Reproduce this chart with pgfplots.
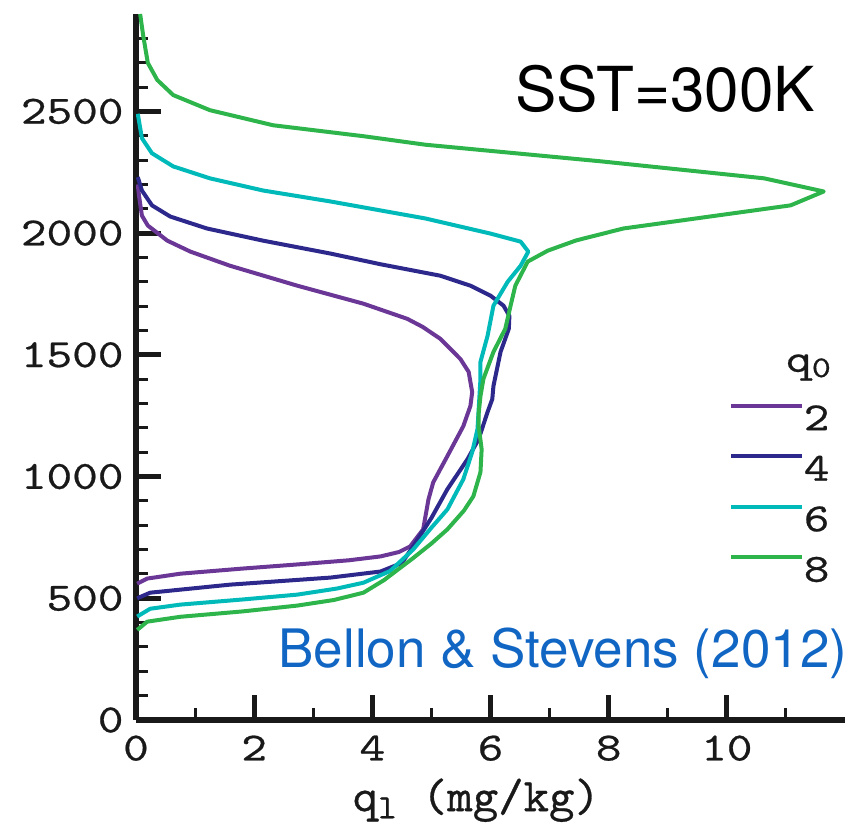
\documentclass[border=0pt]{standalone}
\usepackage{fontspec}
\setsansfont{TeX Gyre Heros}
\newfontfamily\tickfont{lmmono10-regular}[Extension=.otf, FakeStretch=1.22, FakeBold=0.6]
\newfontfamily\labelfont{lmmono10-regular}[Extension=.otf, FakeStretch=1.03, FakeBold=0.6]
\usepackage{pgfplots}
\pgfplotsset{compat=1.18}
\definecolor{cpurple}{RGB}{107,55,150}
\definecolor{cblue}{RGB}{45,40,140}
\definecolor{ccyan}{RGB}{0,185,185}
\definecolor{cgreen}{RGB}{45,180,75}
\definecolor{cref}{RGB}{17,102,196}
\begin{document}
\begin{tikzpicture}
\begin{axis}[
  scale only axis, width=709pt, height=706pt,
  xmin=0, xmax=12, ymin=0, ymax=2900,
  axis x line*=bottom, axis y line*=left,
  axis line style={line width=5.5pt, black!90},
  xtick={0,2,...,10}, ytick={0,500,...,2500},
  minor xtick={1,3,...,11},
  minor ytick={100,200,300,400,600,700,800,900,1100,1200,1300,1400,1600,1700,1800,1900,2100,2200,2300,2400,2600,2700,2800},
  tick align=inside, major tick length=25pt, minor tick length=12pt,
  every major tick/.append style={line width=5pt, black!90},
  every minor tick/.append style={line width=3pt, black!90},
  /pgf/number format/assume math mode=true,
  /pgf/number format/set thousands separator={},
  tick label style={font=\tickfont\fontsize{40}{40}\selectfont, black!90},
  xticklabel style={yshift=-12pt},
  yticklabel style={xshift=-9pt},
  xlabel={q\raisebox{-0.35ex}{\fontsize{34}{34}\selectfont l} (mg/kg)},
  xlabel style={font=\labelfont\fontsize{47}{47}\selectfont, black!90, at={(axis description cs:0.48,0)}, anchor=north, yshift=-55pt},
  legend style={at={(axis cs:10.03,1300)}, anchor=north west, draw=none, fill=none, inner sep=0pt,
    font=\tickfont\fontsize{40}{40}\selectfont, text=black!90, row sep=24pt,
    nodes={inner sep=0pt, text height=25pt, text depth=0pt}},
  legend image code/.code={\draw[#1, line width=4pt] (0pt,12pt) -- (71pt,12pt);},
  every axis plot/.append style={line width=4pt, line join=round},
]
\addplot[cpurple] coordinates {
(0.02,560) (0.19,581) (0.75,601) (1.8,622) (2.73,639) (3.6,656) (4.14,672) (4.45,690) (4.64,713) (4.86,783)
(4.95,906) (5.03,976) (5.27,1084) (5.54,1207) (5.66,1290) (5.69,1347) (5.63,1430) (5.49,1483)
(5.15,1566) (4.85,1615) (4.59,1648) (3.85,1710) (2.73,1784) (1.59,1866) (0.92,1924) (0.53,1969)
(0.2,2031) (0.1,2072) (0.05,2155) (0.03,2200)};
\addlegendentry{2}
\addplot[cblue] coordinates {
(0.02,500) (0.24,523) (1.59,556) (3.29,585) (4.14,610) (4.5,645) (4.69,713) (5.0,830) (5.27,948)
(5.61,1071) (5.8,1154) (5.95,1265) (6.03,1318) (6.05,1372) (6.17,1512) (6.31,1607) (6.32,1660)
(6.22,1702) (6.0,1743) (5.66,1784) (5.15,1825) (4.14,1872) (3.29,1916) (2.15,1969) (1.2,2019)
(0.58,2068) (0.27,2114) (0.1,2175) (0.03,2230)};
\addlegendentry{4}
\addplot[ccyan] coordinates {
(0.02,425) (0.24,457) (0.75,474) (1.8,495) (2.73,515) (3.4,540) (3.85,564) (4.3,612) (4.69,700) (5.0,790) (5.27,865)
(5.54,989) (5.69,1100) (5.78,1195) (5.81,1318) (5.83,1400) (5.83,1471) (5.95,1578) (6.05,1702)
(6.29,1800) (6.51,1866) (6.64,1924) (6.51,1965) (6.0,1998) (4.9,2060) (3.29,2130) (2.15,2175)
(1.25,2225) (0.63,2274) (0.27,2328) (0.1,2390) (0.03,2490)};
\addlegendentry{6}
\addplot[cgreen] coordinates {
(0.02,370) (0.19,404) (0.75,424) (1.8,446) (2.73,470) (3.35,493) (3.85,523) (4.2,575) (4.69,665) (5.0,725) (5.27,783)
(5.55,860) (5.71,919) (5.83,1018) (5.85,1112) (5.80,1207) (5.80,1260) (5.83,1330) (5.88,1401)
(6.05,1512) (6.25,1607) (6.34,1702) (6.42,1784) (6.63,1883) (6.97,1928) (7.45,1970) (8.25,2019)
(11.08,2114) (11.64,2171) (10.63,2225) (7.86,2295) (4.9,2363) (3.85,2398) (2.32,2443) (1.25,2505)
(0.63,2567) (0.36,2629) (0.2,2699) (0.12,2814) (0.07,2900)};
\addlegendentry{8}
\node[anchor=base west, inner sep=0pt, text=black!90, font=\tickfont\fontsize{40}{40}\selectfont] at (axis cs:11.0,1430) {q\raisebox{-0.3ex}{\fontsize{30}{30}\selectfont 0}};
\node[anchor=base west, inner sep=0pt, font=\sffamily\fontsize{62}{62}\selectfont] at (axis cs:6.42,2501) {SST=300K};
\node[anchor=base west, inner sep=0pt, text=cref, font=\sffamily\fontsize{53}{53}\selectfont] at (axis cs:2.41,214) {Bellon \& Stevens (2012)};
\end{axis}
\pgfresetboundingbox
\path[use as bounding box] ([shift={(-136pt,-116pt)}]current axis.south west) rectangle ([shift={(10pt,14pt)}]current axis.north east);
\end{tikzpicture}
\end{document}
